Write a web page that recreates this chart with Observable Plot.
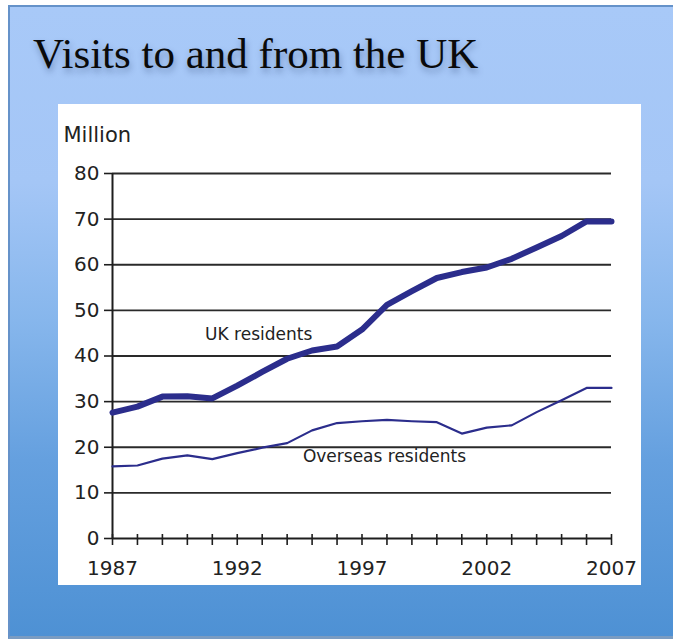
<!DOCTYPE html>
<html>
<head>
<meta charset="utf-8">
<script src="https://cdn.jsdelivr.net/npm/d3@7"></script>
<script src="https://cdn.jsdelivr.net/npm/@observablehq/plot@0.6"></script>
<style>
  html, body { margin: 0; padding: 0; background: #ffffff; }
  body { width: 673px; height: 639px; position: relative; overflow: hidden; }
  #slide {
    position: absolute; left: 8px; top: 5px; width: 665px; height: 634px;
    box-sizing: border-box;
    border-top: 2px solid #6592c9; border-left: 2px solid #6592c9; border-bottom: 3px solid #7a9cc2;
    background: linear-gradient(180deg, #a8c9f8 0%, #a4c6f6 28%, #86b6ec 50%, #65a0df 72%, #4e91d4 100%);
  }
  #title {
    position: absolute; left: 33px; top: 32px; margin: 0;
    font-family: "Liberation Serif", serif; font-size: 43px; line-height: 43px; font-weight: normal;
    color: #0a0a0a; white-space: nowrap;
    text-shadow: 1px 4px 6px rgba(20, 40, 90, 0.35);
  }
  #panel {
    position: absolute; left: 58px; top: 104px; width: 583px; height: 481px; background: #ffffff;
  }
  #panel svg { display: block; }
</style>
</head>
<body>
<div id="slide"></div>
<h1 id="title">Visits to and from the UK</h1>
<div id="panel"></div>
<script>
const years = [1987, 1988, 1989, 1990, 1991, 1992, 1993, 1994, 1995, 1996, 1997,
               1998, 1999, 2000, 2001, 2002, 2003, 2004, 2005, 2006, 2007];
const ukResidents = [27.6, 28.9, 31.1, 31.2, 30.7, 33.5, 36.5, 39.4, 41.2, 42.1, 45.8,
                     51.2, 54.2, 57.1, 58.4, 59.4, 61.3, 63.8, 66.3, 69.5, 69.5];
const overseasResidents = [15.8, 16.0, 17.5, 18.2, 17.4, 18.7, 19.9, 20.9, 23.7, 25.3, 25.7,
                           26.0, 25.7, 25.5, 23.0, 24.3, 24.8, 27.7, 30.3, 33.0, 33.0];
const yTicks = [0, 10, 20, 30, 40, 50, 60, 70, 80];
const xLabelTicks = [1987, 1992, 1997, 2002, 2007];
const seriesLabels = ["UK residents", "Overseas residents"];
const seriesLabelYears = [1992.86, 1997.9];
const seriesLabelValues = [44.6, 17.9];
const axisTitle = "Million";

const ink = "#1e1e1e";
const lineColor = "#2b2d8c";

const uk = years.map((year, i) => ({year, value: ukResidents[i]}));
const overseas = years.map((year, i) => ({year, value: overseasResidents[i]}));
const labels = seriesLabels.map((text, i) => ({text, year: seriesLabelYears[i], value: seriesLabelValues[i]}));

const chart = Plot.plot({
  width: 583,
  height: 481,
  marginLeft: 54,
  marginRight: 30,
  marginTop: 69,
  marginBottom: 47,
  style: {fontFamily: "'DejaVu Sans', sans-serif", fontSize: "20px", color: ink, background: "transparent"},
  x: {domain: [1987, 2007]},
  y: {domain: [0, 80]},
  marks: [
    Plot.ruleY(yTicks.filter(v => v > 0), {stroke: "#2a2a2a", strokeWidth: 1.8}),
    Plot.ruleY([0], {stroke: ink, strokeWidth: 2}),
    Plot.ruleX([1987], {y1: 0, y2: 80, stroke: ink, strokeWidth: 2}),
    Plot.ruleX(years, {x: d => d, y1: 0, y2: 0, insetTop: 7, insetBottom: 4, stroke: ink, strokeWidth: 1.6}),
    Plot.axisY({ticks: yTicks, tickSize: 8, tickPadding: 5, label: null, stroke: ink, strokeWidth: 1.6, fill: "#222", fontSize: 20}),
    Plot.axisX({ticks: xLabelTicks, tickSize: 0, tickPadding: 22, tickFormat: "d", label: null, fill: "#222", fontSize: 20}),
    Plot.line(overseas, {x: "year", y: "value", stroke: lineColor, strokeWidth: 2.2}),
    Plot.line(uk, {x: "year", y: "value", stroke: lineColor, strokeWidth: 6}),
    Plot.text(labels, {x: "year", y: "value", text: "text", fontSize: 17, fill: "#222", lineAnchor: "middle"}),
    Plot.text([axisTitle], {frameAnchor: "top-left", dx: -49, dy: -38, textAnchor: "start", lineAnchor: "middle", fontSize: 21, fill: "#222"})
  ]
});
document.getElementById("panel").appendChild(chart);
</script>
</body>
</html>
